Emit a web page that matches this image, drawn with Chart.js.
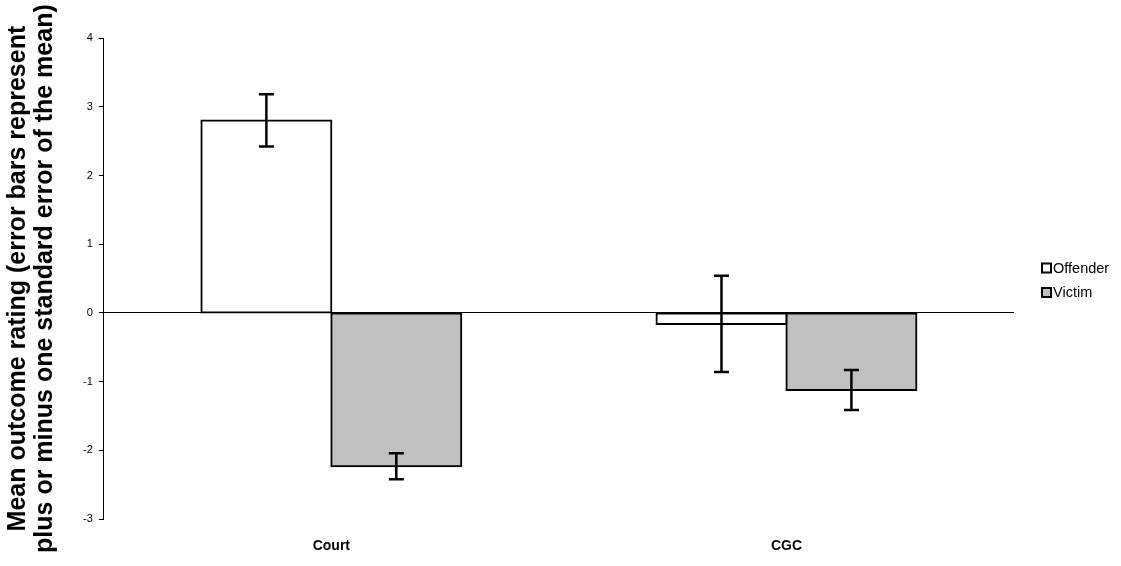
<!DOCTYPE html>
<html>
<head>
<meta charset="utf-8">
<script src="https://cdn.jsdelivr.net/npm/chart.js"></script>
<style>
  body { margin: 0; background: #fff; }
  #grafico { display: block; }
</style>
</head>
<body>
<canvas id="grafico" width="1121" height="566"></canvas>
<script>
// dados
const categorias = ["Court", "CGC"];
const offender = [2.80, -0.16];
const offenderErro = [0.38, 0.70];
const victim = [-2.23, -1.12];
const victimErro = [0.19, 0.29];
const yTicks = [-3, -2, -1, 0, 1, 2, 3, 4];

// barras de erro (± erro padrão)
const errorBars = {
    id: "errorBars",
    afterDatasetsDraw(chart) {
        const ctx = chart.ctx;
        const y = chart.scales.y;
        ctx.save();
        ctx.strokeStyle = "#000";
        ctx.lineWidth = 2.5;
        chart.data.datasets.forEach((ds, i) => {
            const meta = chart.getDatasetMeta(i);
            meta.data.forEach((bar, j) => {
                const v = ds.data[j];
                const e = ds.erro[j];
                const top = y.getPixelForValue(v + e);
                const bot = y.getPixelForValue(v - e);
                ctx.beginPath();
                ctx.moveTo(bar.x, top);
                ctx.lineTo(bar.x, bot);
                ctx.moveTo(bar.x - 7.5, top);
                ctx.lineTo(bar.x + 7.5, top);
                ctx.moveTo(bar.x - 7.5, bot);
                ctx.lineTo(bar.x + 7.5, bot);
                ctx.stroke();
            });
        });
        ctx.restore();
    }
};

// legenda simples à direita
const legenda = {
    id: "legenda",
    afterDraw(chart) {
        const ctx = chart.ctx;
        ctx.save();
        ctx.font = "14.5px 'Liberation Sans', Arial, sans-serif";
        ctx.textBaseline = "middle";
        chart.data.datasets.forEach((ds, i) => {
            const cy = 268 + i * 24.5;
            ctx.fillStyle = ds.backgroundColor;
            ctx.fillRect(1042, cy - 4.5, 9, 9);
            ctx.strokeStyle = "#000";
            ctx.lineWidth = 2;
            ctx.strokeRect(1042, cy - 4.5, 9, 9);
            ctx.fillStyle = "#000";
            ctx.fillText(ds.label, 1053, cy + 0.5);
        });
        ctx.restore();
    }
};

const ctx = document.getElementById("grafico").getContext("2d");
new Chart(ctx, {
    type: "bar",
    data: {
        labels: categorias,
        datasets: [
            {
                label: "Offender",
                data: offender,
                erro: offenderErro,
                backgroundColor: "#ffffff",
                borderColor: "#000000",
                borderWidth: 2,
                borderSkipped: false,
                inflateAmount: 1,
            },
            {
                label: "Victim",
                data: victim,
                erro: victimErro,
                backgroundColor: "#c0c0c0",
                borderColor: "#000000",
                borderWidth: 2,
                borderSkipped: false,
                inflateAmount: 1,
            },
        ],
    },
    options: {
        responsive: false,
        animation: false,
        categoryPercentage: 0.571,
        barPercentage: 1,
        layout: { padding: { left: 4, right: 107, top: 38, bottom: -8 } },
        plugins: {
            legend: { display: false },
            tooltip: { enabled: false },
        },
        scales: {
            x: {
                grid: { display: false, drawTicks: false },
                border: { display: false },
                ticks: {
                    color: "#000",
                    padding: 19,
                    font: { family: "'Liberation Sans', Arial, sans-serif", size: 14, weight: "bold" },
                },
            },
            y: {
                min: -3,
                max: 4,
                afterBuildTicks: axis => { axis.ticks = yTicks.map(v => ({ value: v })); },
                grid: {
                    color: c => (c.tick && c.tick.value === 0 ? "#000" : "rgba(0,0,0,0)"),
                    lineWidth: 1,
                    tickColor: "#000",
                    tickLength: 5,
                },
                border: { display: true, color: "#000", width: 1 },
                ticks: {
                    color: "#000",
                    padding: 6,
                    font: { family: "'Liberation Sans', Arial, sans-serif", size: 11 },
                },
                title: {
                    display: true,
                    text: ["Mean outcome rating (error bars represent", "plus or minus one standard error of the mean)"],
                    color: "#000",
                    padding: { top: 0, bottom: 18 },
                    font: { family: "'Liberation Sans', Arial, sans-serif", size: 25, weight: "bold", lineHeight: 1.1 },
                },
            },
        },
    },
    plugins: [errorBars, legenda],
});
</script>
</body>
</html>
